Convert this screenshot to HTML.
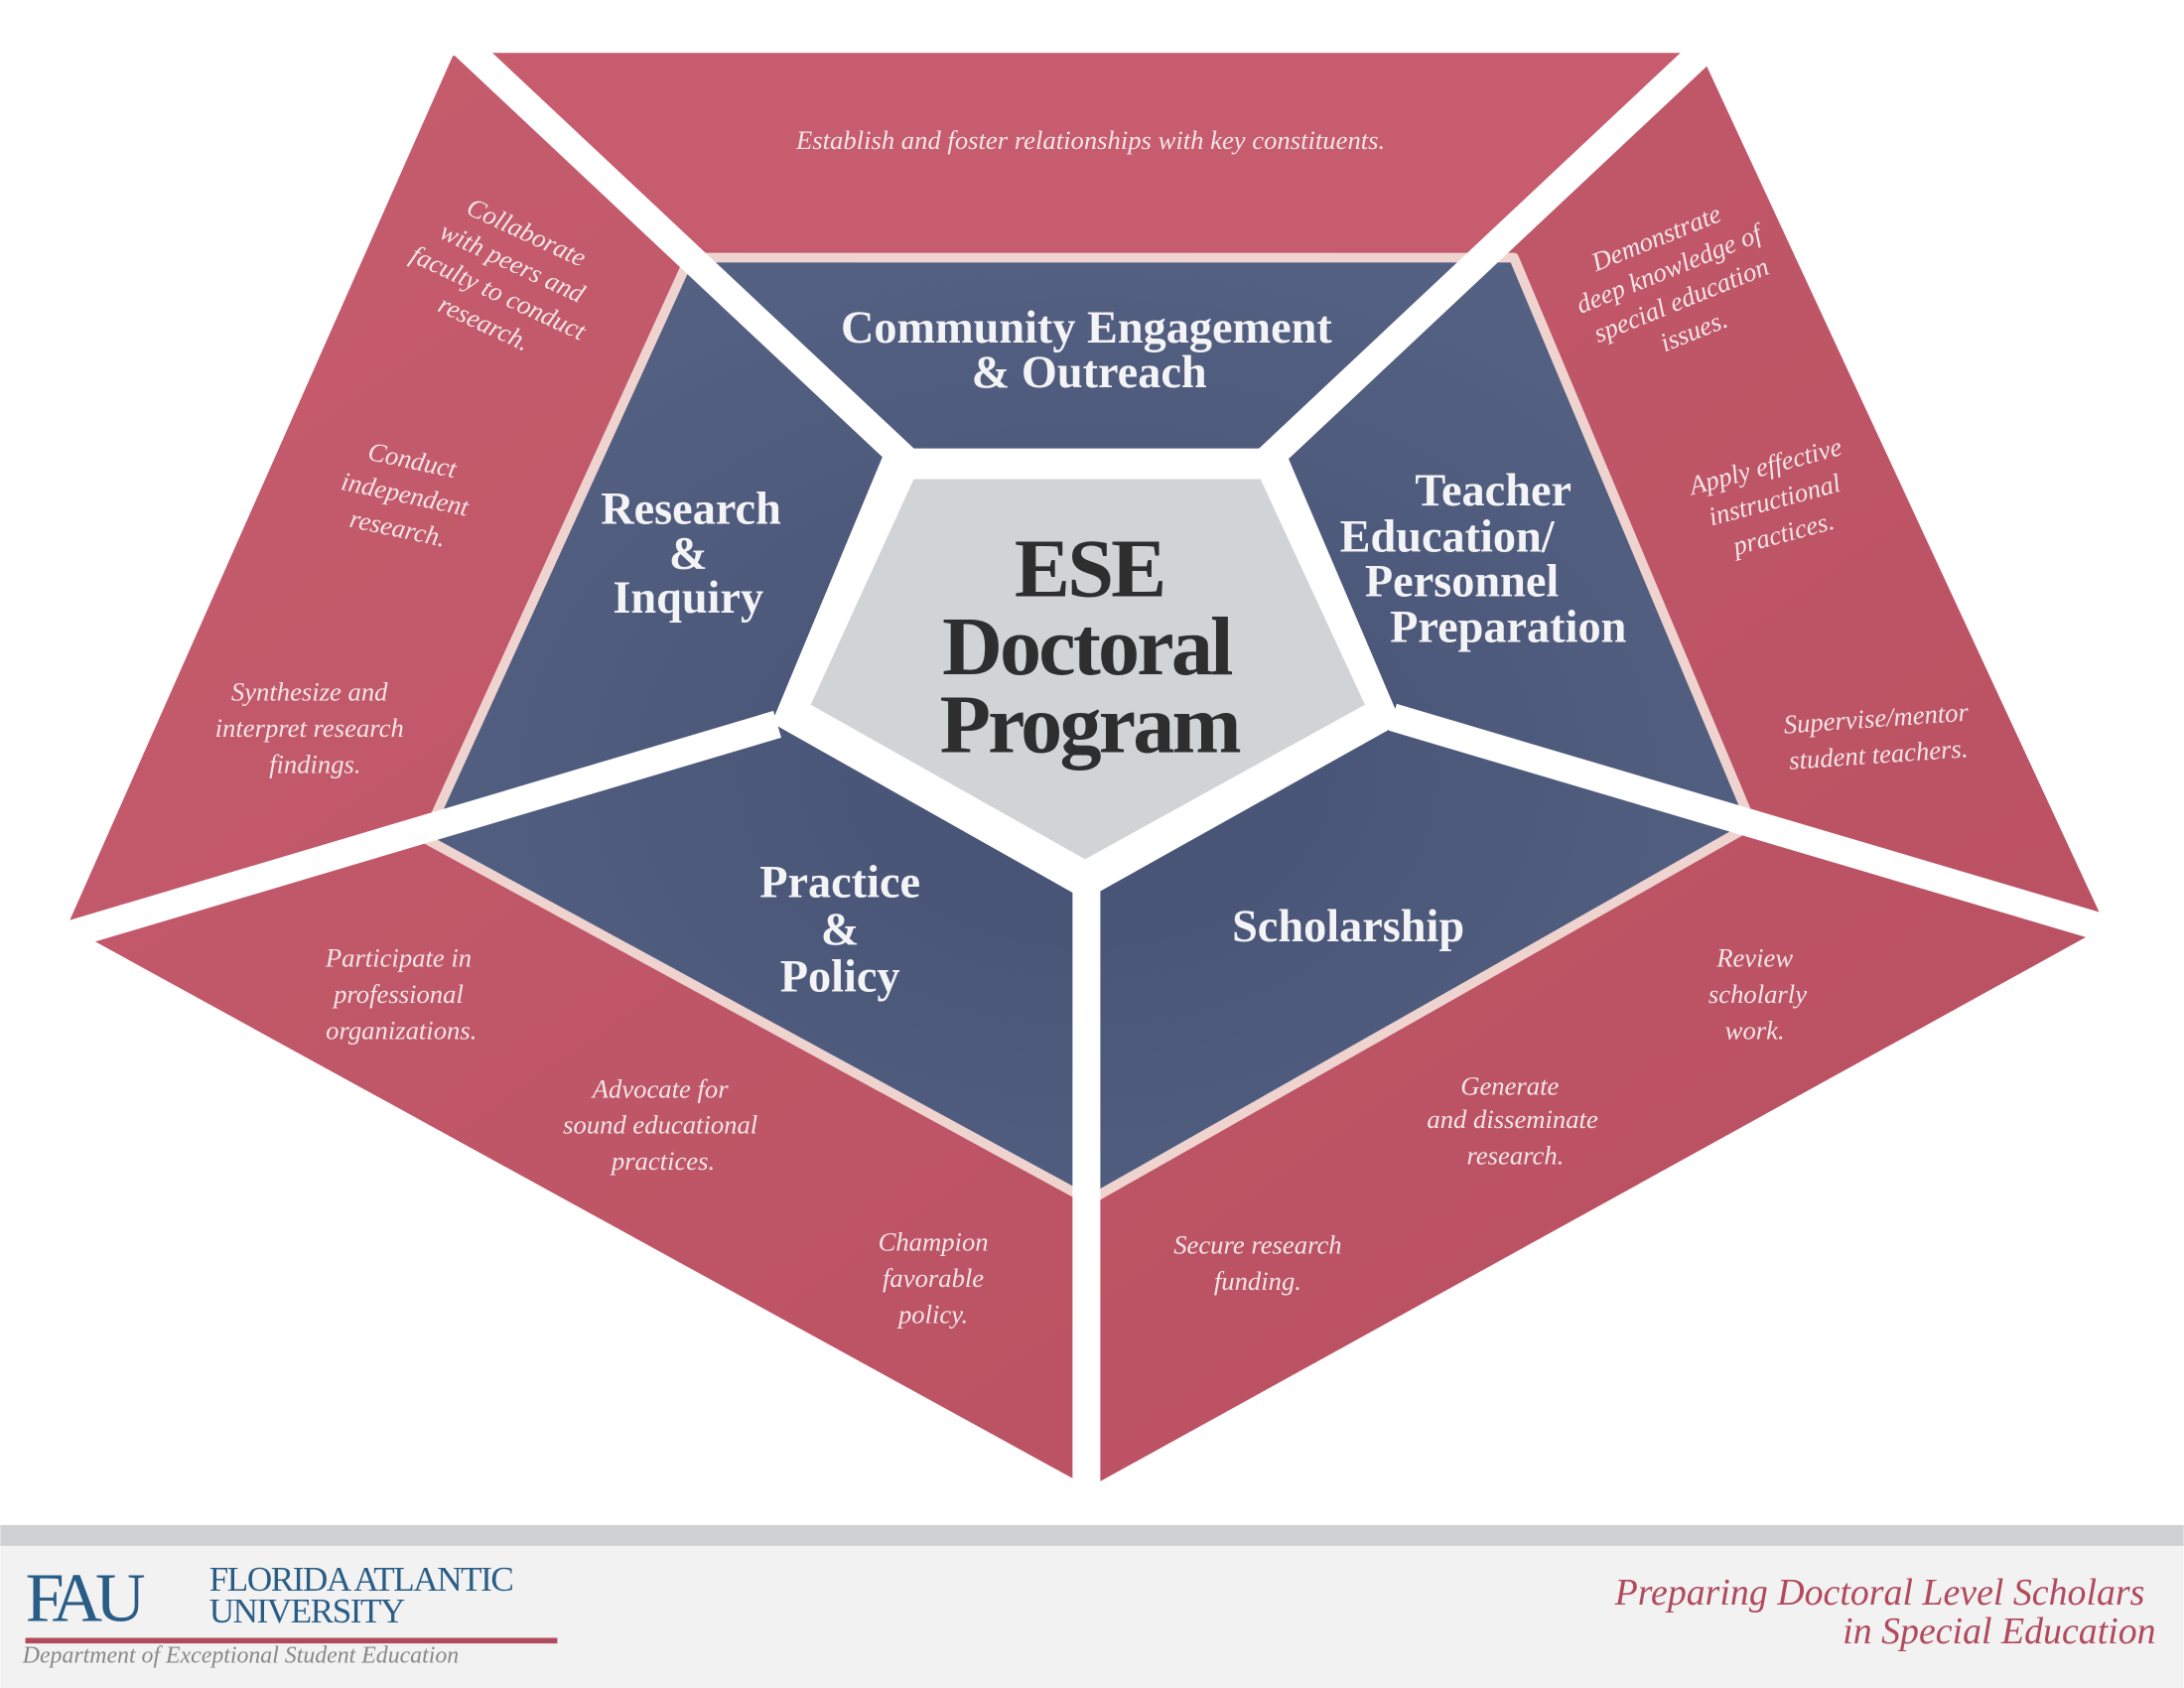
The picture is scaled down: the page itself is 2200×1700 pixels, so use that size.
<!DOCTYPE html>
<html><head><meta charset="utf-8"><style>
html,body{margin:0;padding:0;background:#fff;}
svg{display:block;}
.t{font-family:"Liberation Serif",serif;font-style:italic;fill:#f3e6e8;font-size:19px;text-anchor:middle;}
.h{font-family:"Liberation Serif",serif;font-weight:bold;fill:#f4f4f6;font-size:33px;text-anchor:middle;}
.c{font-family:"Liberation Serif",serif;font-weight:bold;fill:#2e2e2e;font-size:60px;text-anchor:middle;letter-spacing:-2px;}
</style></head><body>
<svg width="2200" height="1700" viewBox="0 0 1568 1212" xmlns="http://www.w3.org/2000/svg">
<defs>
<linearGradient id="rg" x1="0" y1="0" x2="1" y2="1"><stop offset="0" stop-color="#c65d6e"/><stop offset="1" stop-color="#b84f60"/></linearGradient>
<radialGradient id="bg" cx="0.5" cy="0.55" r="0.6"><stop offset="0" stop-color="#465273"/><stop offset="1" stop-color="#546183"/></radialGradient>
</defs>
<rect x="0" y="0" width="1568" height="1212" fill="#fff"/>
<polygon points="325,40 1222,40 1512,665 782,1068 48,665" fill="url(#rg)"/>
<polygon points="345,38 1218,38 1085,180 495,180" fill="#c65c6d"/>
<polygon points="495,185 1087,185 1258,592 782,862 305,602" fill="url(#bg)" stroke="#efd3cf" stroke-width="7" stroke-linejoin="round"/>
<g stroke="#fff" stroke-width="20" stroke-linecap="butt">
<line x1="650" y1="330" x2="325" y2="25"/>
<line x1="910" y1="330" x2="1235" y2="25"/>
<line x1="1000" y1="515" x2="1540" y2="675"/>
<line x1="780" y1="635" x2="780" y2="1090"/>
<line x1="558" y1="520" x2="20" y2="680"/>
</g>
<polygon points="636,322 922,322 1006,519 779,646 554,519" fill="#fff"/>
<polygon points="656,344 905,344 980,506 779,617 582,506" fill="#d1d3d5"/>
<text class="c" x="782" y="428">ESE</text>
<text class="c" x="780" y="484">Doctoral</text>
<text class="c" x="782" y="540">Program</text>
<text class="h" x="780" y="246">Community Engagement</text>
<text class="h" x="782" y="278">&amp; Outreach</text>
<text class="h" x="496" y="376">Research</text>
<text class="h" x="494" y="408">&amp;</text>
<text class="h" x="494" y="440">Inquiry</text>
<text class="h" x="1016" y="363" style="text-anchor:start">Teacher</text>
<text class="h" x="962" y="396" style="text-anchor:start">Education/</text>
<text class="h" x="980" y="428" style="text-anchor:start">Personnel</text>
<text class="h" x="998" y="461" style="text-anchor:start">Preparation</text>
<text class="h" x="603" y="644">Practice</text>
<text class="h" x="603" y="678">&amp;</text>
<text class="h" x="603" y="712">Policy</text>
<text class="h" x="968" y="676">Scholarship</text>
<text class="t" x="783" y="107">Establish and foster relationships with key constituents.</text>
<g transform="translate(360,205) rotate(25)">
<text class="t" x="0" y="-36">Collaborate</text><text class="t" x="0" y="-12">with peers and</text><text class="t" x="0" y="12">faculty to conduct</text><text class="t" x="0" y="36">research.</text></g>
<g transform="translate(290,358) rotate(12)">
<text class="t" x="0" y="-22">Conduct</text><text class="t" x="0" y="3">independent</text><text class="t" x="0" y="28">research.</text></g>
<text class="t" x="222" y="503">Synthesize and</text><text class="t" x="222" y="529">interpret research</text><text class="t" x="226" y="555">findings.</text>
<g transform="translate(1205,210) rotate(-22)">
<text class="t" x="0" y="-36">Demonstrate</text><text class="t" x="0" y="-12">deep knowledge of</text><text class="t" x="0" y="12">special education</text><text class="t" x="0" y="36">issues.</text></g>
<g transform="translate(1275,362) rotate(-15)">
<text class="t" x="0" y="-22">Apply effective</text><text class="t" x="0" y="3">instructional</text><text class="t" x="0" y="28">practices.</text></g>
<g transform="translate(1348,530) rotate(-4)">
<text class="t" x="0" y="-8">Supervise/mentor</text><text class="t" x="0" y="18">student teachers.</text></g>
<text class="t" x="286" y="694">Participate in</text><text class="t" x="286" y="720">professional</text><text class="t" x="288" y="746">organizations.</text>
<text class="t" x="474" y="788">Advocate for</text><text class="t" x="474" y="814">sound educational</text><text class="t" x="476" y="840">practices.</text>
<text class="t" x="670" y="898">Champion</text><text class="t" x="670" y="924">favorable</text><text class="t" x="670" y="950">policy.</text>
<text class="t" x="1260" y="694">Review</text><text class="t" x="1262" y="720">scholarly</text><text class="t" x="1260" y="746">work.</text>
<text class="t" x="1084" y="786">Generate</text><text class="t" x="1086" y="810">and disseminate</text><text class="t" x="1088" y="836">research.</text>
<text class="t" x="903" y="900">Secure research</text><text class="t" x="903" y="926">funding.</text>
<rect x="0" y="1095" width="1568" height="15" fill="#cfd2d4"/>
<rect x="0" y="1110" width="1568" height="102" fill="#f2f2f2"/>
<text x="18" y="1164" font-family="Liberation Serif,serif" font-size="50" fill="#2a5d86" letter-spacing="-5">FAU</text>
<text x="150" y="1142" font-family="Liberation Serif,serif" font-size="25" fill="#2a5d86" letter-spacing="-1">FLORIDA ATLANTIC</text>
<text x="150" y="1165" font-family="Liberation Serif,serif" font-size="25" fill="#2a5d86" letter-spacing="-1">UNIVERSITY</text>
<rect x="18" y="1176" width="382" height="4" fill="#b04a5c"/>
<text x="16" y="1194" font-family="Liberation Serif,serif" font-style="italic" font-size="17" fill="#888">Department of Exceptional Student Education</text>
<text x="1540" y="1152" font-family="Liberation Serif,serif" font-style="italic" font-size="27" fill="#b04a5c" text-anchor="end">Preparing Doctoral Level Scholars</text>
<text x="1548" y="1180" font-family="Liberation Serif,serif" font-style="italic" font-size="27" fill="#b04a5c" text-anchor="end">in Special Education</text>
</svg>
</body></html>
